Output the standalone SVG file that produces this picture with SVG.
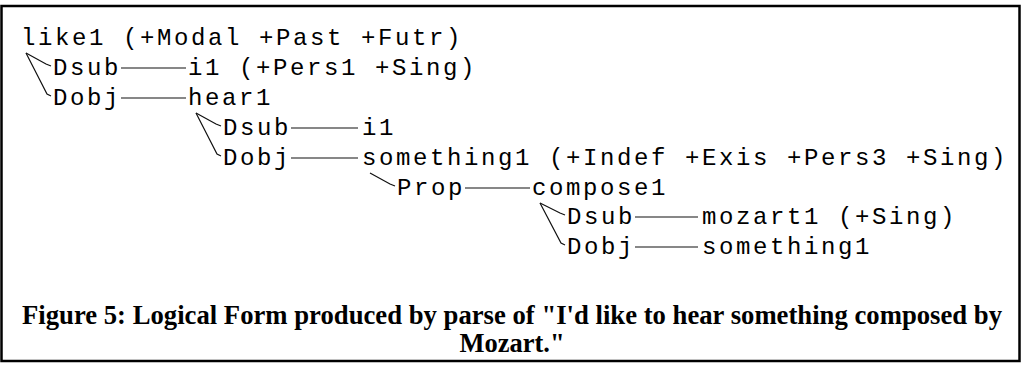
<svg xmlns="http://www.w3.org/2000/svg" width="1024" height="366" viewBox="0 0 1024 366">
<style>
.t{font-family:"Liberation Mono","Courier New",monospace;font-size:24px;letter-spacing:2.6px;fill:#000}
.c{font-family:"Liberation Serif","Times New Roman",serif;font-size:26.5px;font-weight:bold;fill:#000}
.ln{fill:none;stroke:#111;stroke-width:1.2}
</style>
<rect x="1.5" y="6" width="1018" height="355" fill="#fff" stroke="#000" stroke-width="2.5"/>
<g id="connectors" class="ln">
<polyline points="26,53 46,64 51,66"/>
<polyline points="26,53 47,94 51,96"/>
<line x1="121" y1="68" x2="186" y2="68"/>
<line x1="121" y1="98" x2="186" y2="98"/>
<polyline points="196,113 216,124 221,126"/>
<polyline points="196,113 217,154 221,156"/>
<line x1="291" y1="128" x2="358" y2="128"/>
<line x1="291" y1="158" x2="358" y2="158"/>
<polyline points="370,173 390,184 395,186"/>
<line x1="465" y1="188" x2="530" y2="188"/>
<polyline points="540,203 560,213 565,215"/>
<polyline points="540,203 561,243 565,245"/>
<line x1="635" y1="217" x2="698" y2="217"/>
<line x1="635" y1="247" x2="698" y2="247"/>
</g>
<g id="like1"><text class="t" x="21" y="45">like1 (+Modal +Past +Futr)</text></g>
<g id="dsub1"><text class="t" x="53" y="75">Dsub</text></g>
<g id="i1a"><text class="t" x="188" y="75">i1 (+Pers1 +Sing)</text></g>
<g id="dobj1"><text class="t" x="53" y="105">Dobj</text></g>
<g id="hear1"><text class="t" x="188" y="105">hear1</text></g>
<g id="dsub2"><text class="t" x="223" y="135">Dsub</text></g>
<g id="i1b"><text class="t" x="362" y="135">i1</text></g>
<g id="dobj2"><text class="t" x="223" y="165">Dobj</text></g>
<g id="something1a"><text class="t" x="362" y="165">something1 (+Indef +Exis +Pers3 +Sing)</text></g>
<g id="prop"><text class="t" x="397" y="195">Prop</text></g>
<g id="compose1"><text class="t" x="532" y="195">compose1</text></g>
<g id="dsub3"><text class="t" x="567" y="224">Dsub</text></g>
<g id="mozart1"><text class="t" x="702" y="224">mozart1 (+Sing)</text></g>
<g id="dobj3"><text class="t" x="567" y="254">Dobj</text></g>
<g id="something1b"><text class="t" x="702" y="254">something1</text></g>
<g id="caption">
<text class="c" x="22" y="324" textLength="980" lengthAdjust="spacingAndGlyphs">Figure 5: Logical Form produced by parse of "I'd like to hear something composed by</text>
<text class="c" x="512" y="352" text-anchor="middle">Mozart."</text>
</g>
</svg>
